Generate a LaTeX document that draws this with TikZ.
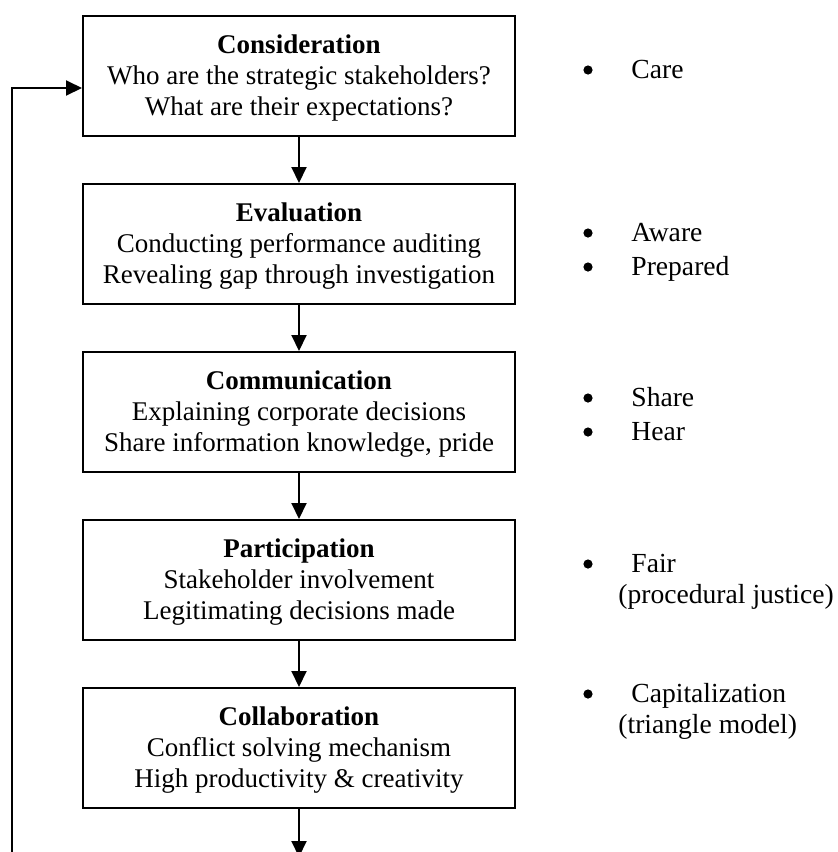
\documentclass[tikz,border=0pt]{standalone}
\usepackage{fontspec}
\setmainfont{Liberation Serif}
\usetikzlibrary{arrows.meta}
\newcommand\tstr{\rule{0pt}{12pt}}
\newcommand\bstr{\rule[-4pt]{0pt}{4pt}}
\begin{document}
\begin{tikzpicture}[x=0.5pt,y=-0.5pt,
  stage/.style={draw, line width=1pt, minimum width=216pt, minimum height=60pt, inner sep=0pt, align=center, font=\fontsize{13.5}{15.5}\selectfont},
  flow/.style={line width=1pt, -{Triangle[length=8pt,width=7.5pt]}},
  lbl/.style={anchor=base west, inner sep=0pt, font=\fontsize{13.8}{15.5}\selectfont},
  dot/.style={circle, fill, inner sep=0pt, minimum size=4.6pt}]
\useasboundingbox (0,0) rectangle (838,852);
\node[stage] (c1) at (299,76) {\tstr\textbf{Consideration}\\Who are the strategic stakeholders?\\What are their expectations?\bstr};
\node[stage] (c2) at (299,244) {\tstr\textbf{Evaluation}\\Conducting performance auditing\\Revealing gap through investigation\bstr};
\node[stage] (c3) at (299,412) {\tstr\textbf{Communication}\\Explaining corporate decisions\\Share information knowledge, pride\bstr};
\node[stage] (c4) at (299,580) {\tstr\textbf{Participation}\\Stakeholder involvement\\Legitimating decisions made\bstr};
\node[stage] (c5) at (299,748) {\tstr\textbf{Collaboration}\\Conflict solving mechanism\\High productivity \& creativity\bstr};
\draw[flow] (c1) -- (c2);
\draw[flow] (c2) -- (c3);
\draw[flow] (c3) -- (c4);
\draw[flow] (c4) -- (c5);
\coordinate (bot) at (299,857);
\draw[flow] (c5) -- (bot);
\coordinate (lb) at (12,870);
\coordinate (lt) at (12,88);
\draw[flow] (lb) -- (lt) -- (c1.west |- lt);
% right-hand labels
\node[dot] (b1) at (588,70) {};
\node[lbl] (t1) at (631,78) {Care};
\node[dot] (b2) at (588,233) {};
\node[lbl] (t2) at (631,241) {Aware};
\node[dot] (b3) at (588,267) {};
\node[lbl] (t3) at (631,275) {Prepared};
\node[dot] (b4) at (588,398) {};
\node[lbl] (t4) at (631,406) {Share};
\node[dot] (b5) at (588,432) {};
\node[lbl] (t5) at (631,440) {Hear};
\node[dot] (b6) at (588,564) {};
\node[lbl] (t6) at (631,572) {Fair};
\node[lbl] (t6b) at (618,603) {(procedural justice)};
\node[dot] (b7) at (588,694) {};
\node[lbl] (t7) at (631,702) {Capitalization};
\node[lbl] (t7b) at (618,733) {(triangle model)};
\end{tikzpicture}
\end{document}
